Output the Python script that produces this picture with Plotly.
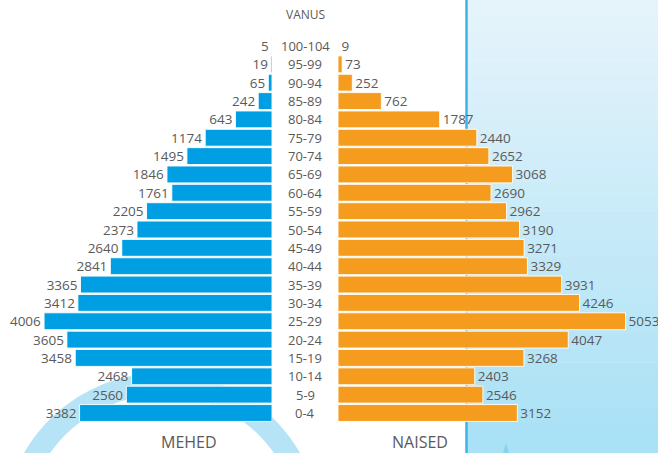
import numpy as np
import plotly.graph_objects as go

# ---- data ----
age_groups = ["0-4", "5-9", "10-14", "15-19", "20-24", "25-29", "30-34", "35-39",
              "40-44", "45-49", "50-54", "55-59", "60-64", "65-69", "70-74",
              "75-79", "80-84", "85-89", "90-94", "95-99", "100-104"]
men = [3382, 2560, 2468, 3458, 3605, 4006, 3412, 3365, 2841, 2640, 2373,
       2205, 1761, 1846, 1495, 1174, 643, 242, 65, 19, 5]
women = [3152, 2546, 2403, 3268, 4047, 5053, 4246, 3931, 3329, 3271, 3190,
         2962, 2690, 3068, 2652, 2440, 1787, 762, 252, 73, 9]
title_age = "VANUS"
label_men = "MEHED"
label_women = "NAISED"

W, H = 658, 453
BLUE = "#009FE3"
ORANGE = "#F59C1E"
GREY = "#5a5a5a"
FONT = "Open Sans"


def px(x):
    return x / W


def py(y):
    return 1 - y / H


fig = go.Figure()
fig.add_trace(go.Bar(
    y=age_groups, x=men, orientation="h", xaxis="x", yaxis="y",
    marker=dict(color=BLUE, line=dict(color="rgba(255,255,255,0.9)", width=1)),
    text=[str(v) for v in men], textposition="outside", cliponaxis=False,
    textfont=dict(family=FONT, size=13.5, color=GREY), constraintext="none",
    showlegend=False, hoverinfo="skip"))
fig.add_trace(go.Bar(
    y=age_groups, x=women, orientation="h", xaxis="x2", yaxis="y",
    marker=dict(color=ORANGE, line=dict(color="rgba(255,255,255,0.9)", width=1)),
    text=[str(v) for v in women], textposition="outside", cliponaxis=False,
    textfont=dict(family=FONT, size=13.5, color=GREY), constraintext="none",
    showlegend=False, hoverinfo="skip"))

shapes = []
# gradient background panel on the right
n = 30
c0 = np.array([231, 244, 251])
c1 = np.array([168, 225, 246])
for i in range(n):
    t = (i + 0.5) / n
    c = (c0 + (c1 - c0) * t).astype(int)
    shapes.append(dict(type="rect", xref="paper", yref="paper",
                       x0=px(467), x1=1, y0=py(H * (i + 1) / n) - 0.001,
                       y1=py(H * i / n), fillcolor=f"rgb({c[0]},{c[1]},{c[2]})",
                       line=dict(width=0), layer="below"))
shapes.append(dict(type="line", xref="paper", yref="paper", x0=px(466.5), x1=px(466.5),
                   y0=0, y1=1, line=dict(color="#3BB4E8", width=2.5), layer="below"))
# small triangle
shapes.append(dict(type="path", xref="paper", yref="paper",
                   path=f"M {px(503)} {py(453)} L {px(506)} {py(443)} L {px(509)} {py(453)} Z",
                   fillcolor="rgb(135,210,242)", line=dict(width=0), layer="below"))
# decorative arc band
cx, cy = 162, 532
r_out, r_in = 159, 137
ang = np.linspace(np.pi * 1.05, np.pi * 1.95, 80)
outer = [(cx + r_out * np.cos(a), cy + r_out * np.sin(a)) for a in ang]
inner = [(cx + r_in * np.cos(a), cy + r_in * np.sin(a)) for a in ang[::-1]]
pts = outer + inner
path = "M " + " L ".join(f"{px(x):.5f} {py(y):.5f}" for x, y in pts) + " Z"
shapes.append(dict(type="path", xref="paper", yref="paper", path=path,
                   fillcolor="rgb(182,227,246)", line=dict(width=0), layer="below"))

annotations = []
for g in age_groups:
    annotations.append(dict(x=px(305), xref="paper", y=g, yref="y", text=g,
                            showarrow=False, xanchor="center", yanchor="middle",
                            font=dict(family=FONT, size=13, color=GREY)))
annotations.append(dict(x=px(305), xref="paper", y=py(15), yref="paper", text=title_age,
                        showarrow=False, xanchor="center", yanchor="middle",
                        font=dict(family=FONT, size=12, color=GREY)))
annotations.append(dict(x=px(189), xref="paper", y=py(442), yref="paper", text=label_men,
                        showarrow=False, xanchor="center", yanchor="middle",
                        font=dict(family=FONT, size=16, color=GREY)))
annotations.append(dict(x=px(420), xref="paper", y=py(442), yref="paper", text=label_women,
                        showarrow=False, xanchor="center", yanchor="middle",
                        font=dict(family=FONT, size=16, color=GREY)))

scale = 0.0569
fig.update_layout(
    width=W, height=H, margin=dict(l=0, r=0, t=0, b=0),
    paper_bgcolor="white", plot_bgcolor="rgba(0,0,0,0)",
    bargap=0.08,
    xaxis=dict(domain=[0, 272 / W], range=[272 / scale, 0], visible=False,
               fixedrange=True),
    xaxis2=dict(domain=[338 / W, 1], range=[0, (W - 338) / scale], visible=False,
                anchor="y", fixedrange=True),
    yaxis=dict(type="category", categoryorder="array", categoryarray=age_groups,
               range=[-(H - 413) / 18.35, 20 + 46 / 18.35], visible=False,
               fixedrange=True),
    shapes=shapes, annotations=annotations,
)
fig.write_html(
    "out.html",
    config={"displayModeBar": False},
    post_script="document.body.style.margin='0';document.body.style.overflow='hidden';",
)
